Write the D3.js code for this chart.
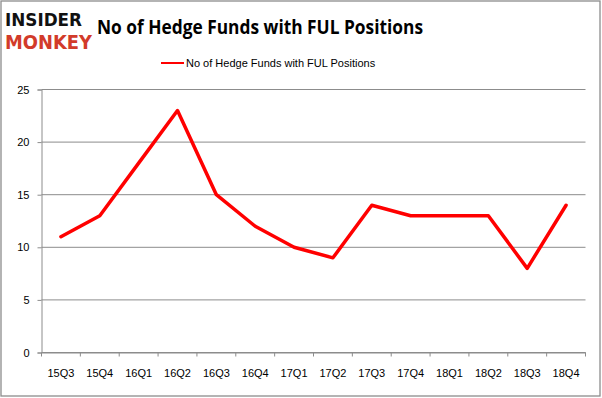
<!DOCTYPE html>
<html>
<head>
<meta charset="utf-8">
<script src="https://cdn.jsdelivr.net/npm/d3@7"></script>
<style>
body { margin: 0; background: #fff; }
svg { display: block; }
.tick text { font-family: "Liberation Sans", "DejaVu Sans", sans-serif; font-size: 11px; fill: #000; }
</style>
</head>
<body>
<svg id="chart"></svg>
<script>
const quarters = ["15Q3","15Q4","16Q1","16Q2","16Q3","16Q4","17Q1","17Q2","17Q3","17Q4","18Q1","18Q2","18Q3","18Q4"];
const funds = [11, 13, 18, 23, 15, 12, 10, 9, 14, 13, 13, 13, 8, 14];
const yTicks = [0, 5, 10, 15, 20, 25];
const seriesName = "No of Hedge Funds with FUL Positions";

let width = 602, height = 398;
let svg = d3.select("#chart").attr("width", width).attr("height", height);

// outer frame
svg.append("rect")
	.attr("x", 1).attr("y", 1)
	.attr("width", width - 3).attr("height", height - 3)
	.attr("fill", "#fff").attr("stroke", "#8c8c8c").attr("stroke-width", 1.3);

let plotLeft = 41.5, plotRight = 585.5, plotTop = 89.5, plotBottom = 352.5;

let x = d3.scaleBand().domain(quarters).range([plotLeft, plotRight]);
let y = d3.scaleLinear().domain([0, 25]).range([plotBottom, plotTop]);

// gridlines
svg.append("g")
	.selectAll("line")
	.data(yTicks)
	.enter().append("line")
	.attr("x1", plotLeft).attr("x2", plotRight)
	.attr("y1", d => y(d)).attr("y2", d => y(d))
	.attr("stroke", "#8c8c8c").attr("stroke-width", 1);

// y axis
let yAxis = svg.append("g")
	.attr("transform", `translate(${plotLeft},0)`)
	.call(d3.axisLeft(y).tickValues(yTicks).tickSize(4).tickPadding(8));
yAxis.select(".domain").attr("stroke", "#8c8c8c");
yAxis.selectAll(".tick line").attr("stroke", "#8c8c8c");

// x axis
let xAxis = svg.append("g")
	.attr("transform", `translate(0,${plotBottom})`)
	.call(d3.axisBottom(x).tickSize(0).tickPadding(17));
xAxis.select(".domain").attr("stroke", "#8c8c8c");
xAxis.selectAll(".tick line").remove();
// tick marks at band edges
svg.append("g")
	.selectAll("line")
	.data(quarters.concat(["end"]))
	.enter().append("line")
	.attr("x1", (d, i) => plotLeft + i * x.step())
	.attr("x2", (d, i) => plotLeft + i * x.step())
	.attr("y1", plotBottom).attr("y2", plotBottom + 4)
	.attr("stroke", "#8c8c8c");

// line
let line = d3.line()
	.x((d, i) => x(quarters[i]) + x.bandwidth() / 2)
	.y(d => y(d));

svg.append("path")
	.datum(funds)
	.attr("d", line)
	.attr("fill", "none")
	.attr("stroke", "#ff0000")
	.attr("stroke-width", 3.5)
	.attr("stroke-linejoin", "round")
	.attr("stroke-linecap", "round");

// title
svg.append("text")
	.attr("x", 97).attr("y", 34)
	.attr("font-family", "'Open Sans', 'Liberation Sans', sans-serif")
	.attr("font-weight", "bold")
	.attr("font-size", 20)
	.attr("textLength", 326)
	.attr("lengthAdjust", "spacingAndGlyphs")
	.text(seriesName);

// legend
svg.append("line")
	.attr("x1", 161).attr("x2", 184)
	.attr("y1", 63).attr("y2", 63)
	.attr("stroke", "#ff0000").attr("stroke-width", 2);
svg.append("text")
	.attr("x", 186).attr("y", 67)
	.attr("font-family", "'Liberation Sans', sans-serif")
	.attr("font-size", 11)
	.text(seriesName);

// logo
svg.append("text")
	.attr("x", 5).attr("y", 26)
	.attr("font-family", "'DejaVu Sans', sans-serif")
	.attr("font-weight", "bold")
	.attr("font-size", 17)
	.attr("textLength", 77)
	.attr("lengthAdjust", "spacingAndGlyphs")
	.attr("fill", "#111")
	.text("INSIDER");
svg.append("text")
	.attr("x", 5).attr("y", 49)
	.attr("font-family", "'DejaVu Sans', sans-serif")
	.attr("font-weight", "bold")
	.attr("font-size", 19)
	.attr("textLength", 87)
	.attr("lengthAdjust", "spacingAndGlyphs")
	.attr("fill", "#d23b2a")
	.text("MONKEY");
</script>
</body>
</html>
